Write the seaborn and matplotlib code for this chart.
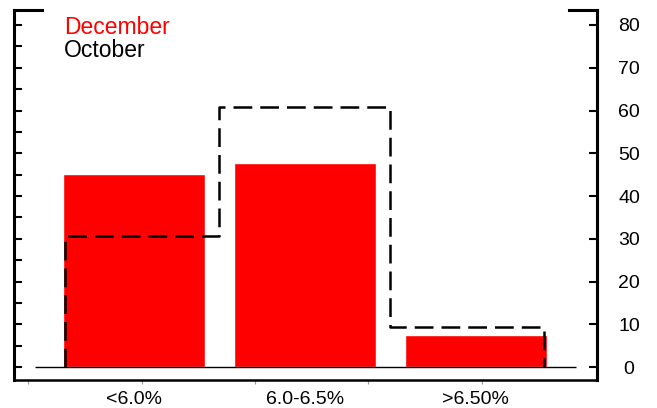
import numpy as np
import pandas as pd
import matplotlib
matplotlib.use("Agg")
import matplotlib.pyplot as plt
import seaborn as sns

# data
categories = ["<6.0%", "6.0-6.5%", ">6.50%"]
december = [45.1, 47.7, 7.5]
october = [30.6, 60.8, 9.3]
right_ticks = list(range(0, 81, 10))
left_ticks = list(range(0, 81, 5))

sns.set_theme(style="white")
plt.rcParams["font.family"] = ["Liberation Sans", "DejaVu Sans"]

fig = plt.figure(figsize=(6.57, 4.08), dpi=100)
ax = fig.add_axes([0.0213, 0.0686, 0.8874, 0.9069])

df = pd.DataFrame({"bucket": categories, "pct": december})
sns.barplot(data=df, x="bucket", y="pct", order=categories, color="#ff0000",
            saturation=1, width=0.83, ax=ax)

# October as a dashed step outline around the bars
half = 0.40
pos = np.arange(len(categories))
edges = np.concatenate([[pos[0] - half], (pos[:-1] + pos[1:]) / 2, [pos[-1] + half]])
step_x = np.repeat(edges, 2)
step_y = np.concatenate([[0], np.repeat(october, 2), [0]])
ax.plot(step_x, step_y, color="black", lw=1.8, dashes=(7.5, 3.2))

ax.hlines(0, -0.58, 2.59, color="black", lw=1.0)

ax.set_xlim(-0.70, 2.71)
ax.set_ylim(-3.0, 83.5)
ax.set_xlabel("")
ax.set_ylabel("")

for s in ax.spines.values():
    s.set_linewidth(2.2)
    s.set_color("black")
ax.spines["top"].set_bounds(-0.70, -0.538)
ax.spines["bottom"].set_linewidth(1.8)

ax.set_yticks(left_ticks)
ax.tick_params(axis="y", left=True, direction="in", length=6, width=1.5,
               labelleft=False, color="black")
ax.set_xticks(pos)
ax.set_xticklabels(categories)
ax.tick_params(axis="x", bottom=True, length=0, pad=8, labelsize=14, labelcolor="black")
ax.set_xticks([-0.62, 0.047, 0.71, 1.37, 2.04], minor=True)
ax.tick_params(axis="x", which="minor", bottom=True, direction="out", length=3,
               width=0.8, color="#999999")

ax2 = ax.twinx()
ax2.set_ylim(ax.get_ylim())
ax2.set_yticks(right_ticks)
ax2.tick_params(axis="y", right=True, direction="in", length=6, width=1.5,
                pad=23, labelsize=14, color="black", labelcolor="black")
for lab in ax2.get_yticklabels():
    lab.set_horizontalalignment("center")
for name, s in ax2.spines.items():
    s.set_linewidth(2.2)
    s.set_color("black")
    s.set_visible(name in ("right", "top"))
ax2.spines["top"].set_bounds(2.544, 2.71)

handles = [plt.Line2D([], [], lw=0), plt.Line2D([], [], lw=0)]
ax.legend(handles, ["December", "October"], loc="upper left",
          bbox_to_anchor=(0.05, 1.04), frameon=False, fontsize=16.5,
          handlelength=0, handletextpad=0, labelspacing=0.02,
          labelcolor=["#ff0000", "black"])

fig.savefig("out.png", dpi=100)
